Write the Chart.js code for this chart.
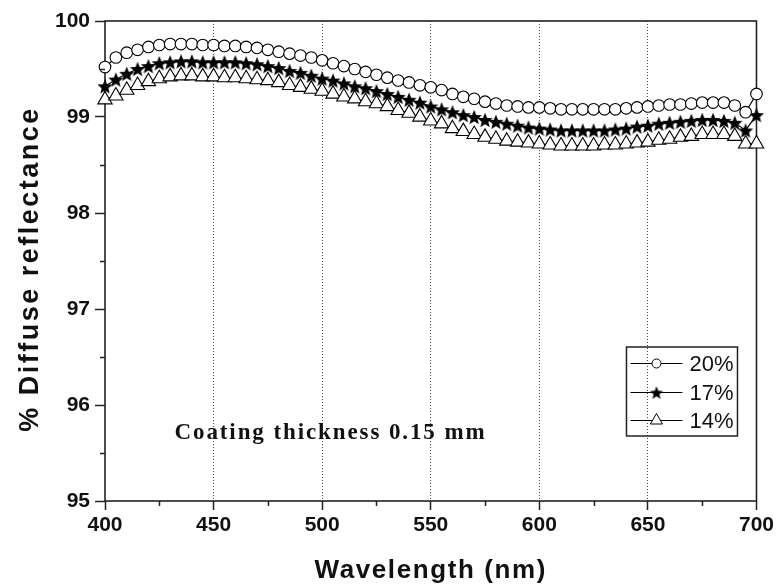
<!DOCTYPE html>
<html>
<head>
<meta charset="utf-8">
<script src="https://cdn.jsdelivr.net/npm/chart.js@4.4.0/dist/chart.umd.min.js"></script>
<style>
  html, body { margin: 0; padding: 0; background: #fff; }
  #wrap { width: 777px; height: 586px; }
</style>
</head>
<body>
<div id="wrap"><canvas id="myChart" width="777" height="586"></canvas></div>
<script>
// wavelength in nm, one reading every 5 nm
const wavelength = [
  400, 405, 410, 415, 420, 425, 430, 435, 440, 445,
  450, 455, 460, 465, 470, 475, 480, 485, 490, 495,
  500, 505, 510, 515, 520, 525, 530, 535, 540, 545,
  550, 555, 560, 565, 570, 575, 580, 585, 590, 595,
  600, 605, 610, 615, 620, 625, 630, 635, 640, 645,
  650, 655, 660, 665, 670, 675, 680, 685, 690, 695,
  700
];

// % diffuse reflectance for each loading
const refl20 = [
  99.52, 99.62, 99.67, 99.70, 99.73, 99.75, 99.76, 99.76, 99.76, 99.75,
  99.75, 99.74, 99.74, 99.73, 99.72, 99.70, 99.68, 99.66, 99.64, 99.62,
  99.59, 99.56, 99.53, 99.50, 99.47, 99.44, 99.41, 99.38, 99.36, 99.33,
  99.31, 99.28, 99.24, 99.21, 99.19, 99.16, 99.14, 99.12, 99.11, 99.10,
  99.10, 99.09, 99.08, 99.08, 99.08, 99.08, 99.08, 99.08, 99.09, 99.10,
  99.11, 99.12, 99.13, 99.13, 99.14, 99.15, 99.15, 99.15, 99.12, 99.05,
  99.24
];
const refl17 = [
  99.32, 99.39, 99.45, 99.50, 99.53, 99.56, 99.57, 99.58, 99.58, 99.57,
  99.57, 99.57, 99.57, 99.56, 99.55, 99.53, 99.51, 99.48, 99.46, 99.43,
  99.40, 99.38, 99.35, 99.32, 99.30, 99.27, 99.24, 99.21, 99.18, 99.15,
  99.11, 99.08, 99.05, 99.02, 99.00, 98.97, 98.95, 98.93, 98.91, 98.89,
  98.88, 98.87, 98.86, 98.86, 98.86, 98.86, 98.86, 98.87, 98.88, 98.90,
  98.91, 98.93, 98.94, 98.95, 98.96, 98.97, 98.97, 98.96, 98.94, 98.86,
  99.02
];
const refl14 = [
  99.18, 99.22, 99.28, 99.33, 99.37, 99.40, 99.42, 99.43, 99.43, 99.42,
  99.42, 99.41, 99.41, 99.40, 99.39, 99.38, 99.36, 99.33, 99.31, 99.29,
  99.27, 99.24, 99.21, 99.19, 99.16, 99.14, 99.11, 99.07, 99.04, 99.00,
  98.96, 98.93, 98.88, 98.85, 98.82, 98.79, 98.77, 98.75, 98.74, 98.73,
  98.72, 98.71, 98.70, 98.70, 98.70, 98.70, 98.71, 98.71, 98.72, 98.73,
  98.74, 98.76, 98.77, 98.79, 98.80, 98.82, 98.82, 98.82, 98.80, 98.72,
  98.72
];

const seriesLabels = ["20%", "17%", "14%"];
const xMinorTicks = [425, 475, 525, 575, 625, 675];
const yMinorTicks = [95.5, 96.5, 97.5, 98.5, 99.5];
const noteText = "Coating thickness 0.15 mm";
const notePos = { x: 432, y: 95.65 };

const sansBold = (size) => ({ family: "'Liberation Sans', Arial, sans-serif", size: size, weight: "bold" });

function toPoints(values) {
  return wavelength.map((w, i) => ({ x: w, y: values[i] }));
}

// filled five-point star used as a marker image
function makeStar(outer, inner) {
  const size = Math.ceil(outer * 2 + 2);
  const c = document.createElement("canvas");
  c.width = size;
  c.height = size;
  const g = c.getContext("2d");
  g.beginPath();
  for (let i = 0; i < 10; i++) {
    const r = i % 2 ? inner : outer;
    const a = -Math.PI / 2 + (i * Math.PI) / 5;
    g.lineTo(size / 2 + r * Math.cos(a), size / 2 + 0.8 + r * Math.sin(a));
  }
  g.closePath();
  g.fillStyle = "#000";
  g.fill();
  return c;
}

const starMark = makeStar(8, 3.5);
const starSmall = makeStar(7, 3);

const frame = {
  id: "frame",
  beforeDatasetsDraw(chart) {
    const { ctx, chartArea: a } = chart;
    ctx.save();
    ctx.strokeStyle = "#222";
    ctx.lineWidth = 1.6;
    ctx.strokeRect(a.left, a.top, a.right - a.left, a.bottom - a.top);
    ctx.restore();
  },
};

const minorTicks = {
  id: "minorTicks",
  afterDraw(chart) {
    const { ctx, chartArea: a, scales } = chart;
    ctx.save();
    ctx.strokeStyle = "#222";
    ctx.lineWidth = 1.5;
    ctx.beginPath();
    xMinorTicks.forEach((v) => {
      const px = Math.round(scales.x.getPixelForValue(v)) + 0.5;
      ctx.moveTo(px, a.bottom);
      ctx.lineTo(px, a.bottom + 5);
    });
    yMinorTicks.forEach((v) => {
      const py = Math.round(scales.y.getPixelForValue(v)) + 0.5;
      ctx.moveTo(a.left, py);
      ctx.lineTo(a.left - 5, py);
    });
    ctx.stroke();
    ctx.restore();
  },
};

const axisTitles = {
  id: "axisTitles",
  afterDraw(chart) {
    const { ctx, chartArea: a } = chart;
    ctx.save();
    ctx.fillStyle = "#111";
    ctx.font = "bold 26px 'Liberation Sans', Arial, sans-serif";
    ctx.letterSpacing = "1.6px";
    ctx.textAlign = "center";
    ctx.textBaseline = "alphabetic";
    ctx.fillText("Wavelength (nm)", (a.left + a.right) / 2, 578);
    ctx.translate(38, (a.top + a.bottom) / 2 + 8);
    ctx.rotate(-Math.PI / 2);
    ctx.font = "bold 27px 'Liberation Sans', Arial, sans-serif";
    ctx.letterSpacing = "2.5px";
    ctx.fillText("% Diffuse reflectance", 0, 0);
    ctx.restore();
  },
};

const note = {
  id: "note",
  afterDraw(chart) {
    const { ctx, scales } = chart;
    ctx.save();
    ctx.fillStyle = "#111";
    ctx.font = "bold 23px 'Liberation Serif', 'Times New Roman', serif";
    ctx.letterSpacing = "1.9px";
    ctx.textAlign = "left";
    ctx.textBaseline = "alphabetic";
    ctx.fillText(noteText, scales.x.getPixelForValue(notePos.x), scales.y.getPixelForValue(notePos.y));
    ctx.restore();
  },
};

// boxed legend in the lower right: line, marker, label
const legendBox = {
  id: "legendBox",
  afterDraw(chart) {
    const { ctx, chartArea: a } = chart;
    const right = a.right - 19;
    const bottom = a.bottom - 65;
    const w = 111;
    const h = 89;
    const left = right - w;
    const top = bottom - h;
    ctx.save();
    ctx.strokeStyle = "#222";
    ctx.lineWidth = 1.5;
    ctx.strokeRect(left, top, w, h);
    const rowY = [top + 16.5, top + 45.5, top + 73.5];
    chart.data.datasets.forEach((ds, i) => {
      const y = rowY[i];
      ctx.strokeStyle = "#000";
      ctx.lineWidth = 1;
      ctx.beginPath();
      ctx.moveTo(left + 4, y);
      ctx.lineTo(left + 56, y);
      ctx.stroke();
      const mx = left + 30;
      if (ds.pointStyle instanceof HTMLCanvasElement) {
        ctx.drawImage(starSmall, mx - starSmall.width / 2, y - starSmall.height / 2);
      } else {
        ctx.fillStyle = "#fff";
        ctx.strokeStyle = "#000";
        Chart.helpers.drawPoint(ctx, {
          pointStyle: ds.pointStyle,
          radius: ds.pointStyle === "circle" ? 4.5 : 7,
          rotation: 0,
          borderWidth: 1,
        }, mx, y);
      }
      ctx.fillStyle = "#111";
      ctx.font = "22px 'Liberation Sans', Arial, sans-serif";
      ctx.textAlign = "left";
      ctx.textBaseline = "middle";
      ctx.fillText(ds.label, left + 63, y + 1);
    });
    ctx.restore();
  },
};

const ctx = document.getElementById("myChart");

const baseSeries = {
  borderColor: "#000",
  borderWidth: 1.2,
  pointBackgroundColor: "#fff",
  pointBorderColor: "#000",
  pointBorderWidth: 1.1,
  tension: 0,
  fill: false,
  clip: false,
};

new Chart(ctx, {
  type: "line",
  data: {
    datasets: [
      { ...baseSeries, label: seriesLabels[0], data: toPoints(refl20), pointStyle: "circle", pointRadius: 5.8 },
      { ...baseSeries, label: seriesLabels[1], data: toPoints(refl17), pointStyle: starMark, pointRadius: 8 },
      { ...baseSeries, label: seriesLabels[2], data: toPoints(refl14), pointStyle: "triangle", pointRadius: 8.3 },
    ],
  },
  options: {
    responsive: false,
    animation: false,
    events: [],
    layout: { padding: { left: 0, top: 21, right: 20, bottom: 0 } },
    plugins: {
      legend: { display: false },
      tooltip: { enabled: false },
    },
    scales: {
      x: {
        type: "linear",
        min: 400,
        max: 700,
        afterFit: (s) => { s.height = 85; },
        ticks: { stepSize: 50, color: "#111", font: sansBold(21), padding: 3, maxRotation: 0 },
        grid: {
          drawOnChartArea: true,
          color: (c) => (c.tick && (c.tick.value === 400 || c.tick.value === 700) ? "rgba(0,0,0,0)" : "#444"),
          lineWidth: 1,
          tickColor: "#222",
          tickLength: 9,
          tickWidth: 1.5,
        },
        border: { display: false, dash: [1, 2] },
      },
      y: {
        min: 95,
        max: 100,
        afterFit: (s) => { s.width = 105; },
        ticks: { stepSize: 1, color: "#111", font: sansBold(21), padding: 5 },
        grid: {
          color: "rgba(0,0,0,0)",
          tickColor: "#222",
          tickLength: 10,
          tickWidth: 1.5,
        },
        border: { display: false },
      },
    },
  },
  plugins: [frame, minorTicks, axisTitles, note, legendBox],
});
</script>
</body>
</html>
